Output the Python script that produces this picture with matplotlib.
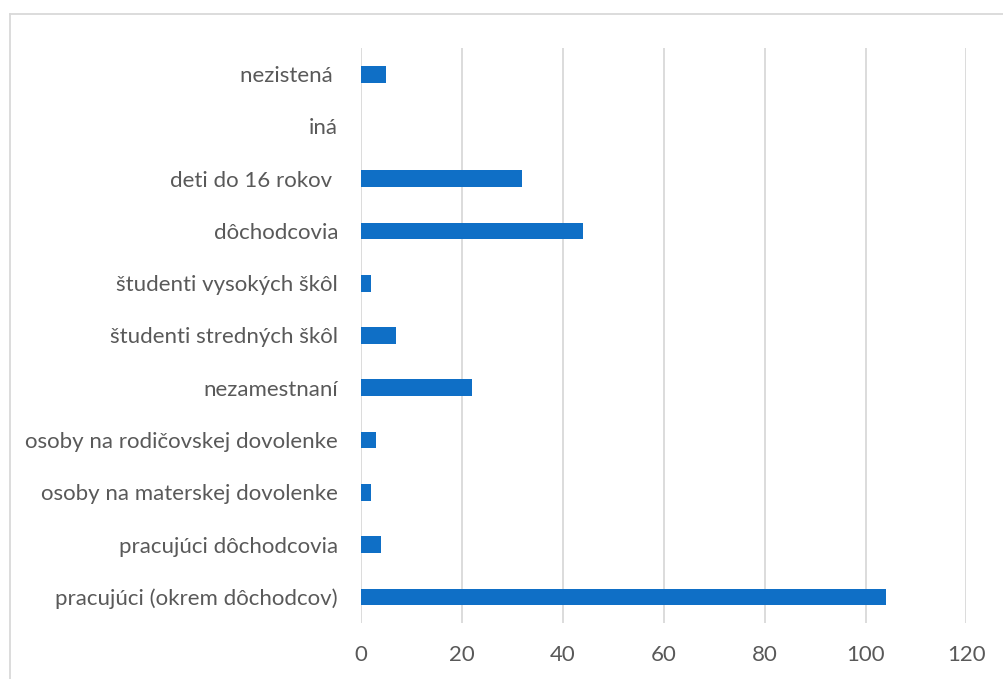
import matplotlib
matplotlib.use("Agg")
from matplotlib import pyplot as plt
from matplotlib.lines import Line2D

categories = [
    "pracujúci (okrem dôchodcov)",
    "pracujúci dôchodcovia",
    "osoby na materskej dovolenke",
    "osoby na rodičovskej dovolenke",
    "nezamestnaní",
    "študenti stredných škôl",
    "študenti vysokých škôl",
    "dôchodcovia",
    "deti do 16 rokov ",
    "iná",
    "nezistená ",
]
values = [104, 4, 2, 3, 22, 7, 2, 44, 32, 0, 5]
xticks = [0, 20, 40, 60, 80, 100, 120]

plt.rcParams['font.family'] = ['Lato', 'DejaVu Sans']
text_color = '#595959'

W, H = 1004, 679
fig = plt.figure(figsize=(W / 100, H / 100), dpi=100)
ax = fig.add_axes([361 / W, 1 - 623 / H, (966.5 - 361) / W, (623 - 48) / H])

ax.barh(range(len(categories)), values, height=0.32, color='#0F6FC6', zorder=3)
ax.set_xlim(0, 120)
ax.set_ylim(-0.5, len(categories) - 0.5)
ax.set_xticks(xticks)
ax.set_yticks(range(len(categories)))
ax.set_yticklabels(categories)
ax.grid(axis='x', color='#d9d9d9', linewidth=1.3, zorder=0)
for s in ax.spines.values():
    s.set_visible(False)
ax.tick_params(axis='both', length=0, labelsize=16, labelcolor=text_color)
ax.tick_params(axis='y', pad=16.5)
ax.tick_params(axis='x', pad=16)

# chart border (left and top visible)
fig.add_artist(Line2D([9.5 / W, 9.5 / W], [0, 1 - 13.5 / H], color='#d9d9d9', linewidth=1.3))
fig.add_artist(Line2D([9.5 / W, 1], [1 - 13.5 / H, 1 - 13.5 / H], color='#d9d9d9', linewidth=1.3))

fig.savefig('out.png', dpi=100, facecolor='white')
